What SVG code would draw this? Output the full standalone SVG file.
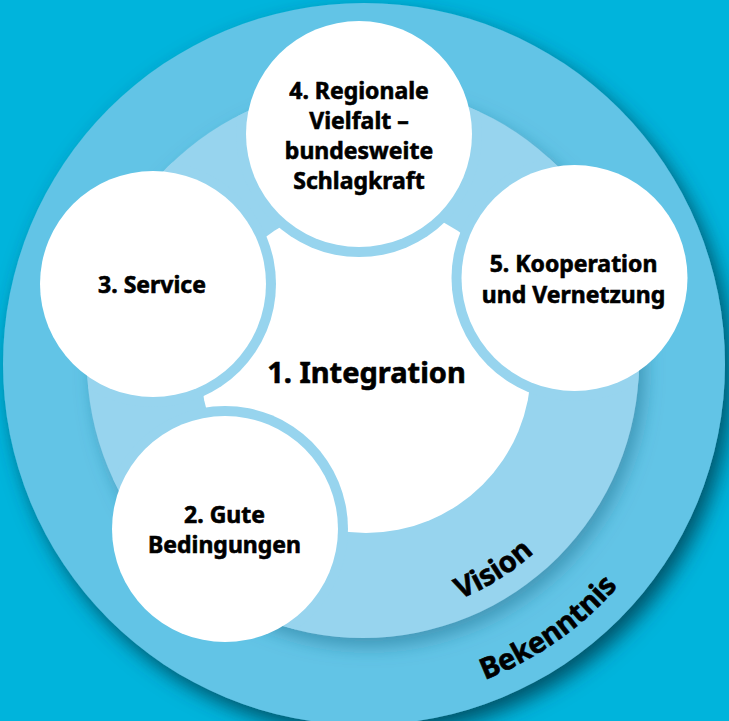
<svg xmlns="http://www.w3.org/2000/svg" width="729" height="721" viewBox="0 0 729 721">
  <style>
    .lbl { font-family: "Noto Sans", "Open Sans", "DejaVu Sans", sans-serif; font-weight: 700; fill: #000; stroke: #000; stroke-width: 0.6px; text-anchor: middle; }
    .node { font-size: 23px; }
    .main { font-size: 29px; }
    .arc { font-size: 29px; }
    .sat { fill: #ffffff; }
    .ring { fill: #97d4ee; }
  </style>
  <defs>
    <filter id="shOuter" x="-20%" y="-20%" width="140%" height="140%">
      <feDropShadow dx="7" dy="10" stdDeviation="10" flood-color="#003a4d" flood-opacity="0.8"/>
    </filter>
    <filter id="shMid" x="-20%" y="-20%" width="140%" height="140%">
      <feDropShadow dx="6" dy="9" stdDeviation="9" flood-color="#1a6a88" flood-opacity="0.5"/>
    </filter>
    <clipPath id="midClip">
      <circle cx="363" cy="362" r="276"/>
    </clipPath>
    <path id="visionPath" d="M319.7,614.1 A255,255 0 0 0 609.1,433.3"/>
    <path id="bekPath" d="M322.9,700.5 A339,339 0 0 0 692.4,440.8"/>
  </defs>

  <rect x="0" y="0" width="729" height="721" fill="#00b4dc"/>

  <g id="outer-ring">
    <circle cx="364" cy="364" r="361" fill="#62c4e6" filter="url(#shOuter)"/>
    <text class="lbl arc"><textPath href="#bekPath" startOffset="50%">Bekenntnis</textPath></text>
  </g>

  <g id="middle-ring">
    <circle cx="363" cy="362" r="276" fill="#97d4ee" filter="url(#shMid)"/>
    <text class="lbl arc"><textPath href="#visionPath" startOffset="50%">Vision</textPath></text>
  </g>

  <g id="node-1">
    <circle cx="366" cy="368" r="165" fill="#ffffff"/>
  </g>

  <g id="rings" clip-path="url(#midClip)">
    <circle class="ring" cx="359" cy="134" r="123"/>
    <circle class="ring" cx="153" cy="284" r="123"/>
    <circle class="ring" cx="574.5" cy="278" r="123"/>
    <circle class="ring" cx="225" cy="529" r="123"/>
  </g>

  <g id="node-1-label">
    <text class="lbl main" x="366.5" y="382.5">1. Integration</text>
  </g>

  <g id="node-4">
    <circle class="sat" cx="359" cy="134" r="113"/>
    <text class="lbl node" x="359" y="99">4. Regionale</text>
    <text class="lbl node" x="359" y="129">Vielfalt –</text>
    <text class="lbl node" x="359" y="159">bundesweite</text>
    <text class="lbl node" x="359" y="189">Schlagkraft</text>
  </g>

  <g id="node-3">
    <circle class="sat" cx="153" cy="284" r="113"/>
    <text class="lbl node" x="152" y="293">3. Service</text>
  </g>

  <g id="node-5">
    <circle class="sat" cx="574.5" cy="278" r="113"/>
    <text class="lbl node" x="573.5" y="271.5">5. Kooperation</text>
    <text class="lbl node" x="573.5" y="302.5">und Vernetzung</text>
  </g>

  <g id="node-2">
    <circle class="sat" cx="225" cy="529" r="113"/>
    <text class="lbl node" x="224.5" y="522.5">2. Gute</text>
    <text class="lbl node" x="224.5" y="553">Bedingungen</text>
  </g>

  <g id="connectors"/>
</svg>
